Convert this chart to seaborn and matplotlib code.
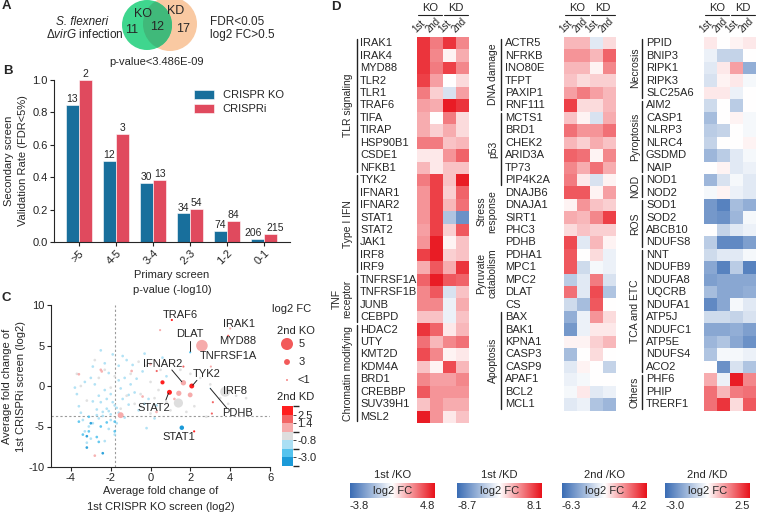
import numpy as np
import pandas as pd
import matplotlib
matplotlib.use("Agg")
import matplotlib.pyplot as plt
import seaborn as sns
from matplotlib.colors import LinearSegmentedColormap, ListedColormap, BoundaryNorm
from matplotlib.patches import Circle
from matplotlib.colorbar import ColorbarBase

# ======================
# DATA
# ======================

# panel A
venn_ko_only = 11
venn_both = 12
venn_kd_only = 17

# panel B
bins = [">5", "4-5", "3-4", "2-3", "1-2", "0-1"]
ko_rate = [0.846, 0.500, 0.367, 0.176, 0.068, 0.019]
kd_rate = [1.000, 0.667, 0.385, 0.204, 0.131, 0.051]
ko_n = [13, 12, 30, 34, 74, 206]
kd_n = [2, 3, 13, 54, 84, 215]

# panel C, background genes (x = KO 1st, y = KD 1st, kd2 = 2nd KD log2 FC)
bg_x = [-3.2, -3.0, -3.3, -3.1, -2.9, -3.4, -2.7, -2.4, -2.2, -2.0, -1.8, -2.5, -2.6, -2.3, -2.8,
        -3.0, -2.1, -1.6, -1.2, -2.5, -1.9, -1.3, -1.0, -0.8, -1.4, -1.1, -0.6, -1.3, -1.7, -2.1,
        -1.8, -2.3, -3.6, -3.7, -3.3, -0.4, -0.1, 0.3, 0.6, -0.3, -1.4, -2.9, -3.5, -2.0, -1.6,
        -0.9, 0.2, -0.2, -2.6, -2.1, -2.4, -2.7, -1.9, -2.2, -1.5, -2.0, -1.6, -2.9, -0.7, -1.1,
        -0.3, 0.8, -3.8, -2.3, -1.7,
        -3.1, -2.7, -2.6, -2.5, -1.8, -1.8, -3.1, -3.6, -3.4, -2.2,
        -3.2, -3.2, -2.4, -3.0,
        -3.7, -2.8, -2.0, -1.0, -0.5, 0.0, 0.5, 1.0, 1.5, 2.5, 3.0, 3.5, 4.3, 4.8, 2.2, 1.0, 0.2,
        -0.6, -1.2, -2.6, -3.2, -1.5, 0.8, 1.8, 2.8, -0.2, -2.3, -3.5, 3.9, 4.6, 0.4, -0.8, -1.8,
        2.0, 0.0, -0.5,
        -2.5, -2.45, -3.6, -0.95, 0.0, -0.4, 1.2, 0.3, -2.8]
bg_y = [-7.0, -6.5, -5.6, -5.0, -4.6, -4.2, -3.6, -3.2, -2.8, -3.5, -2.4, -2.0, -1.2, -0.5, 0.2,
        1.0, 1.6, 2.5, 3.2, 4.4, 3.9, 1.0, 0.2, -0.8, -1.6, -2.3, -3.0, -3.9, -4.6, -5.3,
        -6.0, -6.8, -2.5, -1.0, 0.5, 1.8, -1.6, -2.4, 3.5, 4.0, 3.7, 2.4, -3.3, -1.0, 0.7,
        2.6, -4.0, -5.2, -4.0, -3.1, -3.7, -2.9, -2.0, -1.6, -0.3, -4.2, -3.3, -1.9, 0.9, -1.1,
        -2.2, 1.2, -0.2, 2.8, -2.7,
        -5.6, -6.3, -6.9, -5.0, -4.4, -5.6, -3.8, -4.4, -6.0, -4.5,
        -6.2, -7.6, -8.3, -4.6,
        1.5, 3.2, -0.2, 1.5, -1.0, 0.5, 2.0, 3.0, 2.0, 1.0, 0.2, -1.5, -1.2, -1.5, -2.5, -3.0, -1.5,
        3.0, -1.2, 1.0, -1.8, -2.8, -2.0, -3.2, -3.8, 2.5, 2.0, 0.0, -2.2, -0.5, -0.5, -2.2, 1.2,
        1.5, -3.4, -2.5,
        2.0, 1.8, 1.45, 1.85, 2.7, -1.3, -1.6, -3.2, -8.6]
bg_kd = [-1.4] * 65 + [-2.4] * 10 + [-3.5] * 4 + [-0.2] * 36 + [0.9] * 9

# panel C, highlighted genes
hit_x = [1.07, 4.0, 3.9, 1.99, 2.58, 1.65, 2.07, 0.95, 1.57, 3.75, 3.0,
         0.6, 1.42, 1.99, 1.4, -1.5, 0.48, 1.65, 0.31, 3.03, 2.19, 3.13, 3.08]
hit_y = [8.15, 7.1, 6.2, 4.16, 4.98, 0.4, 0.0, -0.78, -5.15, -0.7, -0.3,
         0.45, -0.9, -1.1, -2.1, -3.6, 6.9, 2.4, 1.85, 2.4, -5.6, -2.0, -3.4]
hit_ko = [0.8, 0.8, 0.8, 0.8, 4.8, 2.6, 2.3, 2.3, 2.0, 4.2, 0.5,
          1.8, 2.5, 2.2, 3.9, 3.0, 0.8, 0.8, 0.8, 0.8, 0.8, 0.8, 0.8]
hit_kd = [2.8, 1.0, 1.5, -2.2, 1.0, 1.0, 2.6, 2.6, -3.2, 0.0, -1.5,
          2.6, 1.0, 1.0, 0.0, 1.0, 1.0, 2.0, 2.0, 1.0, 2.6, 2.0, 1.5]

lab_text = ["TRAF6", "IRAK1", "MYD88", "TNFRSF1A", "DLAT", "IFNAR2", "TYK2", "STAT2", "STAT1", "IRF8", "PDHB"]
lab_x = [0.6, 3.63, 3.42, 2.49, 1.99, 0.6, 2.12, -0.66, 0.6, 3.63, 3.58]
lab_y = [8.77, 7.6, 5.5, 3.74, 6.4, 2.67, 1.44, -2.76, -6.25, -0.6, -3.37]
lab_ha = ["left", "left", "left", "left", "center", "center", "left", "left", "left", "left", "left"]
# leader lines: (x0, y0, x1, y1)
leaders = [(1.07, 1.98, 1.57, 0.53), (2.33, 0.7, 2.12, 0.1), (0.77, -1.73, 0.9, -0.9),
           (1.99, 5.5, 1.99, 4.3), (3.0, -0.3, 3.84, -2.76)]

# panel D heatmaps (columns: KO 1st, KO 2nd, KD 1st, KD 2nd), log2 FC scaled to each column's range
cond_cols = ["KO 1st", "KO 2nd", "KD 1st", "KD 2nd"]

genes1 = ["IRAK1", "IRAK4", "MYD88", "TLR2", "TLR1", "TRAF6", "TIFA", "TIRAP", "HSP90B1", "CSDE1", "NFKB1",
          "TYK2", "IFNAR1", "IFNAR2", "STAT1", "STAT2", "JAK1", "IRF8", "IRF9",
          "TNFRSF1A", "TNFRSF1B", "JUNB", "CEBPD",
          "HDAC2", "UTY", "KMT2D", "KDM4A", "BRD1", "CREBBP", "SUV39H1", "MSL2"]
vals1 = [[0.85, 0.55, 0.85, 0.5], [0.85, 0.5, 0.05, 0.35], [0.85, 0.55, 0.8, 0.5], [0.8, 0.4, 0.0, 0.15],
         [0.55, 0.2, -0.2, 0.4], [0.4, 0.35, 0.95, 0.85], [0.35, 0.0, 0.55, 0.15], [0.35, 0.2, 0.35, 0.15],
         [0.55, 0.55, 0.25, 0.3], [0.1, 0.1, 0.45, 0.65], [0.3, 0.1, 0.25, 0.25],
         [0.55, 0.8, 0.25, 0.95], [0.45, 0.8, 0.2, 0.65], [0.45, 0.8, 0.3, 0.6], [0.45, 0.8, -0.4, -0.75],
         [0.4, 0.8, 0.2, 0.7], [0.45, 0.95, 0.05, 0.25], [0.8, 0.95, 0.2, 0.25], [0.35, 0.7, 0.35, 0.85],
         [0.65, 0.95, 0.7, 0.65], [0.5, 0.7, -0.2, 0.25], [0.5, 0.5, -0.1, 0.35], [0.25, 0.25, -0.1, 0.25],
         [0.85, 0.65, 0.1, 0.3], [0.6, 0.3, 0.5, 0.6], [0.75, 0.5, 0.05, 0.1], [0.25, 0.05, 0.75, 0.3],
         [0.5, 0.4, 0.4, 0.5], [0.7, 0.45, 0.45, 0.45], [0.25, 0.45, 0.35, 0.35], [0.95, 0.45, 0.1, 0.25]]
groups1 = [("TLR signaling", 11, True), ("Type I IFN", 8, True), ("TNF\nreceptor", 4, True),
           ("Chromatin modifying", 8, True)]

genes2 = ["ACTR5", "NFRKB", "INO80E", "TFPT", "PAXIP1", "RNF111",
          "MCTS1", "BRD1", "CHEK2", "ARID3A", "TP73", "PIP4K2A",
          "DNAJB6", "DNAJA1", "SIRT1", "PHC3",
          "PDHB", "PDHA1", "MPC1", "MPC2", "DLAT", "CS",
          "BAX", "BAK1", "KPNA1", "CASP3", "CASP9", "APAF1", "BCL2", "MCL1"]
vals2 = [[0.3, 0.3, -0.15, 0.15], [0.45, 0.45, 0.3, 0.65], [0.3, 0.3, 0.05, 0.5], [0.25, 0.15, 0.2, 0.2],
         [0.4, 0.55, 0.4, 0.3], [0.8, 0.15, 0.15, 0.3],
         [0.25, 0.05, -0.2, 0.35], [0.6, 0.45, 0.45, 0.6], [0.3, 0.2, 0.35, 0.25], [0.65, 0.6, 0.05, 0.5],
         [0.5, 0.35, 0.6, 0.35], [0.55, 0.1, -0.2, 0.05],
         [0.7, 0.7, 0.05, 0.4], [0.05, 0.45, 0.25, 0.2], [0.35, 0.3, 0.5, 0.8], [0.15, 0.25, 0.2, 0.2],
         [0.75, -0.15, 0.3, 0.05], [0.7, 0.0, 0.15, -0.1], [0.7, -0.25, -0.05, -0.1], [-0.35, -0.15, 0.55, -0.2],
         [0.6, -0.15, 0.75, -0.4], [-0.25, -0.45, 0.7, 0.0],
         [-0.55, -0.1, 0.45, 0.15], [-0.7, -0.1, 0.1, 0.1], [0.05, 0.05, 0.2, 0.3], [-0.45, 0.0, 0.15, 0.0],
         [-0.15, 0.05, 0.0, -0.3], [-0.1, -0.05, 0.0, 0.0], [-0.05, 0.1, -0.15, -0.1], [-0.15, -0.1, -0.4, -0.5]]
groups2 = [("DNA damage", 6, True), ("p53", 6, True), ("Stress\nresponse", 4, False),
           ("Pyruvate\ncatabolism", 6, False), ("Apoptosis", 8, True)]

genes3 = ["PPID", "BNIP3", "RIPK1", "RIPK3", "SLC25A6",
          "AIM2", "CASP1", "NLRP3", "NLRC4", "GSDMD", "NAIP",
          "NOD1", "NOD2",
          "SOD1", "SOD2", "ABCB10", "NDUFS8",
          "NNT", "NDUFB9", "NDUFA8", "UQCRB", "NDUFA1", "ATP5J", "NDUFC1", "ATP5E", "NDUFS4", "ACO2",
          "PHF6", "PHIP", "TRERF1"]
vals3 = [[0.1, 0.0, 0.05, 0.1], [-0.1, -0.3, -0.3, 0.0], [-0.15, 0.1, 0.4, -0.55], [-0.2, 0.05, 0.1, -0.05],
         [0.1, 0.1, -0.1, 0.0],
         [-0.25, 0.0, -0.35, 0.0], [-0.45, 0.0, 0.05, -0.05], [-0.35, -0.3, 0.0, -0.05], [-0.3, 0.0, 0.0, 0.05],
         [-0.5, -0.35, -0.15, -0.05], [0.0, 0.05, -0.15, -0.1],
         [-0.5, -0.2, -0.05, -0.15], [-0.05, 0.05, -0.1, -0.15],
         [-0.7, -0.85, -0.45, -0.55], [-0.7, -0.75, -0.5, -0.05], [0.0, -0.3, -0.15, -0.1], [-0.35, -0.8, -0.8, -0.65],
         [-0.25, -0.15, -0.15, -0.05], [-0.6, -0.85, -0.35, -0.85], [-0.65, -0.6, -0.6, -0.6],
         [-0.45, -0.6, -0.6, -0.55], [-0.8, -0.6, -0.05, -0.15], [-0.25, -0.25, -0.3, -0.2],
         [-0.6, -0.6, -0.55, -0.65], [-0.5, -0.4, -0.6, -0.75], [-0.4, -0.05, -0.05, -0.1], [0.0, -0.75, -0.2, -0.4],
         [0.35, -0.1, 0.95, 0.5], [0.6, 0.3, 0.55, 0.6], [0.6, 0.85, 0.15, 0.7]]
groups3 = [("Necrosis", 5, True), ("Pyroptosis", 6, True), ("NOD", 2, True), ("ROS", 4, True),
           ("TCA and ETC", 10, True), ("Others", 3, True)]

# colour bar ranges below the heatmaps
cb_titles = ["1st /KO", "1st /KD", "2nd /KO", "2nd /KD"]
cb_min = ["-3.8", "-8.7", "-6.3", "-3.0"]
cb_max = ["4.8", "8.1", "4.2", "2.5"]

# ======================
# STYLE / LAYOUT
# ======================

sns.set_theme(style="ticks")
plt.rcParams["font.family"] = ["Liberation Sans", "DejaVu Sans"]
plt.rcParams["font.size"] = 8
plt.rcParams["axes.unicode_minus"] = False
plt.rcParams["axes.linewidth"] = 0.8
plt.rcParams["xtick.major.size"] = 3
plt.rcParams["ytick.major.size"] = 3
plt.rcParams["xtick.major.width"] = 0.8
plt.rcParams["ytick.major.width"] = 0.8
plt.rcParams["mathtext.fontset"] = "custom"
plt.rcParams["mathtext.rm"] = "Liberation Sans"
plt.rcParams["mathtext.it"] = "Liberation Sans:italic"

W, H = 760, 512
fig = plt.figure(figsize=(7.6, 5.12), dpi=100)


def px_axes(x0, y0, x1, y1, **kw):
    return fig.add_axes([x0 / W, 1 - y1 / H, (x1 - x0) / W, (y1 - y0) / H], **kw)


KO_COL = "#186f9c"
KD_COL = "#e04a5e"
hm_cmap = LinearSegmentedColormap.from_list("bwr2", ["#3a6cb4", "#ffffff", "#e8111a"])
sc_cmap = ListedColormap(["#1b9ad8", "#55c3ee", "#aadff4", "#dedede", "#f6abab", "#f26565", "#ff1f1f"])
sc_norm = BoundaryNorm([-4.1, -3.0, -1.9, -0.8, 0.3, 1.4, 2.5, 3.6], sc_cmap.N)


def ko_size(v):
    return np.interp(v, [0.5, 1, 3, 5], [1.5, 3, 18, 75])


# ======================
# B. BAR CHART
# ======================

axB = px_axes(54, 80, 290, 242)
dfB = pd.DataFrame({
    "bin": bins * 2,
    "rate": ko_rate + kd_rate,
    "screen": ["CRISPR KO"] * 6 + ["CRISPRi"] * 6,
})
sns.barplot(data=dfB, x="bin", y="rate", hue="screen", palette=[KO_COL, KD_COL],
            width=0.72, saturation=1, ax=axB, edgecolor="white", linewidth=0.4)
bar_texts = []
for cont, lab in zip(axB.containers, [ko_n, kd_n]):
    bar_texts.append(axB.bar_label(cont, labels=[str(v) for v in lab], padding=0.5, fontsize=7.5))
# last pair of counts sits close together, push them apart a bit
bar_texts[0][-1].xyann = (-3, 0.5)
bar_texts[1][-1].xyann = (3, 0.5)
axB.set_ylim(0, 1.0)
axB.set_xlim(-0.68, 5.7)
axB.set_yticks([0, 0.2, 0.4, 0.6, 0.8, 1.0])
axB.set_yticklabels(["0.0", "0.2", "0.4", "0.6", "0.8", "1.0"], fontsize=8)
axB.set_xticks(range(6))
axB.set_xticklabels(bins, rotation=45, ha="right", rotation_mode="anchor", fontsize=8)
axB.set_ylabel("Secondary screen\nValidation Rate (FDR<5%)", fontsize=8, linespacing=1.5, labelpad=3)
axB.set_xlabel("Primary screen\np-value (-log10)", fontsize=8, linespacing=1.7, labelpad=2)
axB.legend(title=None, frameon=False, loc="upper left", bbox_to_anchor=(0.55, 1.0),
           fontsize=8, handlelength=1.8, handleheight=0.9, labelspacing=0.3)
sns.despine(ax=axB)
axB.tick_params(colors="#222222", pad=1.5)

# ======================
# C. SCATTER
# ======================

axC = px_axes(51, 305, 270, 467)
axC.scatter(bg_x, bg_y, c=bg_kd, cmap=sc_cmap, norm=sc_norm, s=ko_size(np.full(len(bg_x), 0.5)) * 2.5,
            linewidths=0, alpha=0.9, zorder=2)
axC.scatter(hit_x, hit_y, c=hit_kd, cmap=sc_cmap, norm=sc_norm, s=ko_size(np.array(hit_ko)),
            linewidths=0, zorder=3)
axC.axvline(-1.8, ls=(0, (2, 2)), color="#9a9a9a", lw=0.8, zorder=1)
axC.axhline(-3.7, ls=(0, (2, 2)), color="#9a9a9a", lw=0.8, zorder=1)
for t, x, y, ha in zip(lab_text, lab_x, lab_y, lab_ha):
    axC.text(x, y, t, ha=ha, va="center", fontsize=8, zorder=4)
for x0, y0, x1, y1 in leaders:
    axC.plot([x0, x1], [y0, y1], color="#222222", lw=0.7, zorder=4)
axC.set_xlim(-5, 6)
axC.set_ylim(-10, 10)
axC.set_xticks([-4, -2, 0, 2, 4, 6])
axC.set_yticks([-10, -5, 0, 5, 10])
axC.tick_params(labelsize=8, pad=1.5)
axC.set_xlabel("Average fold change of\n1st CRISPR KO screen (log2)", fontsize=8, linespacing=1.7, labelpad=2)
axC.set_ylabel("Average fold change of\n1st CRISPRi screen (log2)", fontsize=8, linespacing=1.5, labelpad=2)
sns.despine(ax=axC)

# 2nd KD colour bar
caxC = px_axes(282, 406, 293, 466)
cbC = ColorbarBase(caxC, cmap=sc_cmap, norm=sc_norm, ticks=[-3.0, -0.8, 1.4, 2.5])
cbC.outline.set_visible(False)
cbC.set_ticklabels(["-3.0", "-0.8", "1.4", "2.5"])
caxC.tick_params(labelsize=8, length=2, width=0.6, pad=1)

# ======================
# D. HEATMAPS
# ======================

hm_top = 37
row_h = 12.45
blocks = [
    dict(genes=genes1, vals=vals1, groups=groups1, hx=417, gene_x=360, bar_x=357, grp_x=348),
    dict(genes=genes2, vals=vals2, groups=groups2, hx=564, gene_x=505, bar_x=501, grp_x=493),
    dict(genes=genes3, vals=vals3, groups=groups3, hx=704, gene_x=646, bar_x=642, grp_x=635),
]

ov = px_axes(0, 0, W, H, zorder=10)
ov.set_xlim(0, W)
ov.set_ylim(H, 0)
ov.axis("off")

col_w = 13
for b in blocks:
    n = len(b["genes"])
    ax = px_axes(b["hx"], hm_top, b["hx"] + 4 * col_w, hm_top + n * row_h)
    dfD = pd.DataFrame(b["vals"], index=b["genes"], columns=cond_cols)
    sns.heatmap(dfD, ax=ax, cmap=hm_cmap, vmin=-1, vmax=1, cbar=False,
                xticklabels=False, yticklabels=False)
    ax.set_xlabel("")
    ax.set_ylabel("")
    for i, g in enumerate(b["genes"]):
        ov.text(b["gene_x"], hm_top + (i + 0.5) * row_h, g, ha="left", va="center", fontsize=8)
    start = 0
    for name, cnt, has_bar in b["groups"]:
        y0 = hm_top + start * row_h + 1.5
        y1 = hm_top + (start + cnt) * row_h - 1.5
        if has_bar:
            ov.plot([b["bar_x"], b["bar_x"]], [y0, y1], color="#222222", lw=1.0)
        gx = b["grp_x"] - (6 if "\n" in name else 0)
        ov.text(gx, (y0 + y1) / 2, name, rotation=90, ha="center", va="center",
                fontsize=7.5, linespacing=1.1)
        start += cnt
    # headers
    hx = b["hx"]
    for k, lab in enumerate(["KO", "KD"]):
        xa = hx + k * 2 * col_w
        ov.text(xa + col_w, 8, lab, ha="center", va="center", fontsize=8)
        ov.plot([xa + 1, xa + 2 * col_w - 1], [14.5, 14.5], color="#222222", lw=0.8)
    for k, lab in enumerate(["1st", "2nd", "1st", "2nd"]):
        ov.text(hx + k * col_w + 1, 34, lab, rotation=45, ha="left", va="bottom",
                rotation_mode="anchor", fontsize=7)

# colour bars under the heatmaps
cb_x = [(350, 435), (457, 542), (562, 647), (665, 750)]
grad = np.linspace(-1, 1, 256).reshape(1, -1)
for (x0, x1), t, lo, hi in zip(cb_x, cb_titles, cb_min, cb_max):
    cax = px_axes(x0, 483, x1, 498)
    cax.imshow(grad, aspect="auto", cmap=hm_cmap, vmin=-1, vmax=1)
    cax.set_xticks([])
    cax.set_yticks([])
    for sp in cax.spines.values():
        sp.set_visible(False)
    cax.text(0.5, 0.5, "log2 FC", transform=cax.transAxes, ha="center", va="center", fontsize=8)
    ov.text((x0 + x1) / 2, 475, t, ha="center", va="center", fontsize=8)
    ov.text(x0, 506, lo, ha="left", va="center", fontsize=8)
    ov.text(x1, 506, hi, ha="right", va="center", fontsize=8)

# ======================
# A. VENN + TEXTS
# ======================

ov.add_patch(Circle((170, 24), 27, facecolor="#f9c9a2", edgecolor="none"))
ov.add_patch(Circle((147, 25), 25, facecolor="#3fd68e", edgecolor="none"))
clipper = Circle((170, 24), 27, transform=ov.transData, facecolor="none", edgecolor="none")
ov.add_patch(clipper)
overlap = Circle((147, 25), 25, facecolor="#40b97a", edgecolor="none")
ov.add_patch(overlap)
overlap.set_clip_path(clipper)
ov.text(143, 14, "KO", ha="center", va="center", fontsize=9)
ov.text(176, 11, "KD", ha="center", va="center", fontsize=9)
ov.text(132, 30, str(venn_ko_only), ha="center", va="center", fontsize=9)
ov.text(157, 27, str(venn_both), ha="center", va="center", fontsize=9)
ov.text(183, 29, str(venn_kd_only), ha="center", va="center", fontsize=9)
ov.text(82, 22, "S. flexneri", ha="center", va="center", fontsize=8.5, style="italic")
ov.text(85, 35, r"$\mathit{\Delta virG}$ infection", ha="center", va="center", fontsize=8.5)
ov.text(157, 62, "p-value<3.486E-09", ha="center", va="center", fontsize=8)
ov.text(210, 22, "FDR<0.05", ha="left", va="center", fontsize=8.5)
ov.text(210, 35, "log2 FC>0.5", ha="left", va="center", fontsize=8.5)

# panel C legend
ov.text(272, 309, "log2 FC", ha="left", va="center", fontsize=8)
ov.text(277, 331, "2nd KO", ha="left", va="center", fontsize=8)
ov.scatter([287, 287, 287], [344, 362, 380], s=ko_size(np.array([5, 3, 0.5])), color="#f25a5a", linewidths=0)
ov.text(299, 344, "5", ha="left", va="center", fontsize=8)
ov.text(299, 362, "3", ha="left", va="center", fontsize=8)
ov.text(297, 380, "<1", ha="left", va="center", fontsize=8)
ov.text(277, 397, "2nd KD", ha="left", va="center", fontsize=8)

# panel letters
for lab, x, y in [("A", 2, 6), ("B", 3, 71), ("C", 1, 298), ("D", 331, 7)]:
    ov.text(x, y, lab, ha="left", va="center", fontsize=9.5, fontweight="bold")

fig.savefig("out.png", dpi=100)
